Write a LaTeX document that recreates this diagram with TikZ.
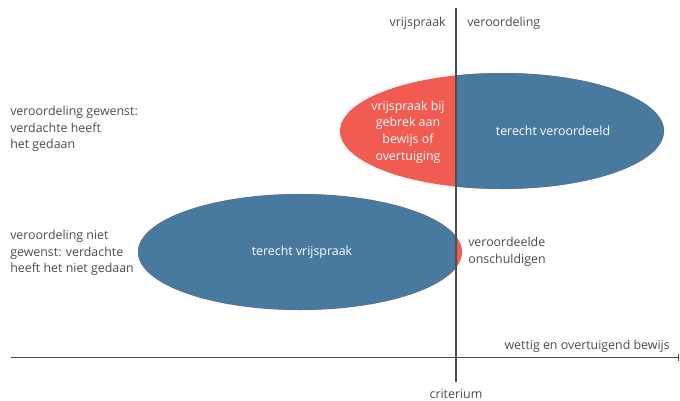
\documentclass[tikz,border=0pt]{standalone}
\usepackage{fontspec}
\setmainfont{Open Sans}
\usepackage{tikz}
\usetikzlibrary{arrows.meta, positioning, shapes.geometric}
\definecolor{ovblue}{HTML}{48799F}
\definecolor{ovred}{HTML}{F15B51}
\definecolor{ovgrey}{HTML}{4D4D4D}

\begin{document}
\begin{tikzpicture}[
    x=0.75pt, y=-0.75pt,
    txt/.style={font=\fontsize{9.3}{12.4}\selectfont, text=ovgrey, inner sep=0pt},
    wtxt/.style={font=\fontsize{9.3}{12.4}\selectfont, text=white, inner sep=0pt, align=center},
    blob/.style={ellipse, inner sep=0pt, minimum width=243pt, minimum height=87pt},
    axis/.style={ovgrey, line width=1.1pt}
  ]
    \useasboundingbox (0,0) rectangle (680,400);

    % ellipses
    \node[blob, fill=ovred] (guilty) at (502,131) {};
    \node[blob, fill=ovred] (innocent) at (300,252) {};
    \begin{scope}
      \clip (456,0) rectangle (680,400);
      \node[blob, fill=ovblue] at (guilty) {};
    \end{scope}
    \begin{scope}
      \clip (0,0) rectangle (456,400);
      \node[blob, fill=ovblue] at (innocent) {};
    \end{scope}

    % axes
    \coordinate (crit top) at (456,8);
    \coordinate (crit bot) at (456,382);
    \coordinate (ax start) at (11,357.5);
    \coordinate (ax end) at (679,357.5);
    \draw[axis] (crit top) -- (crit bot);
    \draw[axis, -{Bar[width=5pt, line width=1pt]}] (ax start) -- (ax end);

    % labels
    \node[txt, anchor=east] (acquit) at (446,23) {vrijspraak};
    \node[txt, anchor=west] (convict) at (467,23) {veroordeling};
    \node[txt] (crit) at (456,394) {criterium};
    \node[txt, anchor=east] (proof) at (670,346) {wettig en overtuigend bewijs};
    \node[txt, anchor=west, align=left] (wanted) at (10,129)
      {veroordeling gewenst:\\verdachte heeft\\het gedaan};
    \node[txt, anchor=west, align=left] (unwanted) at (10,253)
      {veroordeling niet\\gewenst: verdachte\\heeft het niet gedaan};
    \node[txt, anchor=west, align=left] (wrong) at (468,252)
      {veroordeelde\\onschuldigen};

    \node[wtxt] (lack) at (408,132)
      {vrijspraak bij\\gebrek aan\\bewijs of\\overtuiging};
    \node[wtxt] (rightc) at (553,131) {terecht veroordeeld};
    \node[wtxt] (righta) at (302,252) {terecht vrijspraak};
  \end{tikzpicture}
\end{document}
